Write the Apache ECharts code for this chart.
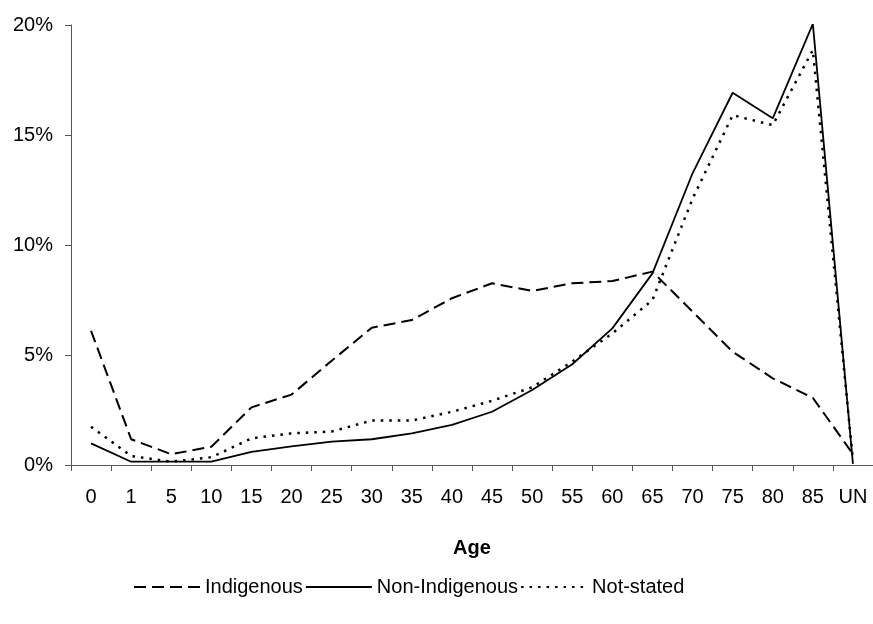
<!DOCTYPE html>
<html>
<head>
<meta charset="utf-8">
<script src="https://cdn.jsdelivr.net/npm/echarts@6/dist/echarts.min.js"></script>
<style>html,body{margin:0;padding:0;background:#fff}#c{width:873px;height:624px}</style>
</head>
<body>
<div id="c"></div>
<script>
const ages = ['0','1','5','10','15','20','25','30','35','40','45','50','55','60','65','70','75','80','85','UN'];
const indigenous    = [6.1, 1.17, 0.49, 0.83, 2.62, 3.2, 4.74, 6.24, 6.59, 7.58, 8.26, 7.91, 8.26, 8.36, 8.79, 6.97, 5.15, 3.94, 3.05, 0.5];
const nonIndigenous = [0.98, 0.15, 0.15, 0.15, 0.6, 0.85, 1.06, 1.17, 1.44, 1.82, 2.42, 3.41, 4.58, 6.21, 8.71, 13.26, 16.92, 15.76, 20.05, 0.05];
const notStated     = [1.74, 0.41, 0.15, 0.35, 1.21, 1.44, 1.52, 2.02, 2.02, 2.42, 2.92, 3.53, 4.7, 5.98, 7.5, 12.1, 15.9, 15.45, 18.86, 0.2];
const seriesNames = ['Indigenous', 'Non-Indigenous', 'Not-stated'];
const yTicks = {min: 0, max: 20, step: 5};

const chart = echarts.init(document.getElementById('c'));
const font = 'Liberation Sans, Arial, sans-serif';
chart.setOption({
  animation: false,
  backgroundColor: '#fff',
  grid: {left: 71, top: 25, width: 804, height: 440, containLabel: false},
  xAxis: {
    type: 'category',
    data: ages,
    boundaryGap: true,
    name: 'Age',
    nameLocation: 'middle',
    nameGap: 73,
    nameTextStyle: {fontFamily: font, fontSize: 20, fontWeight: 'bold', color: '#000'},
    axisLine: {lineStyle: {color: '#555', width: 1}},
    axisTick: {show: true, length: 6, alignWithLabel: false, lineStyle: {color: '#555'}},
    axisLabel: {fontFamily: font, fontSize: 20, color: '#000', margin: 22, interval: 0},
    splitLine: {show: false}
  },
  yAxis: {
    type: 'value',
    min: yTicks.min, max: yTicks.max, interval: yTicks.step,
    axisLine: {show: true, lineStyle: {color: '#555', width: 1}},
    axisTick: {show: true, length: 6, lineStyle: {color: '#555'}},
    axisLabel: {fontFamily: font, fontSize: 20, color: '#000', margin: 18, formatter: '{value}%'},
    splitLine: {show: false}
  },
  legend: {
    left: 128,
    top: 572,
    itemWidth: 66,
    itemHeight: 14,
    itemGap: 2,
    itemStyle: {opacity: 0},
    textStyle: {fontFamily: font, fontSize: 20, color: '#000'},
    data: seriesNames
  },
  series: [
    {name: seriesNames[0], type: 'line', data: indigenous, symbol: 'none', silent: true,
     lineStyle: {color: '#000', width: 2, type: [12, 6]}, itemStyle: {color: '#000'}},
    {name: seriesNames[1], type: 'line', data: nonIndigenous, symbol: 'none', silent: true,
     lineStyle: {color: '#000', width: 1.8, type: 'solid'}, itemStyle: {color: '#000'}},
    {name: seriesNames[2], type: 'line', data: notStated, symbol: 'none', silent: true,
     lineStyle: {color: '#000', width: 2.5, type: [2.5, 6]}, itemStyle: {color: '#000'}}
  ]
});
</script>
</body>
</html>
